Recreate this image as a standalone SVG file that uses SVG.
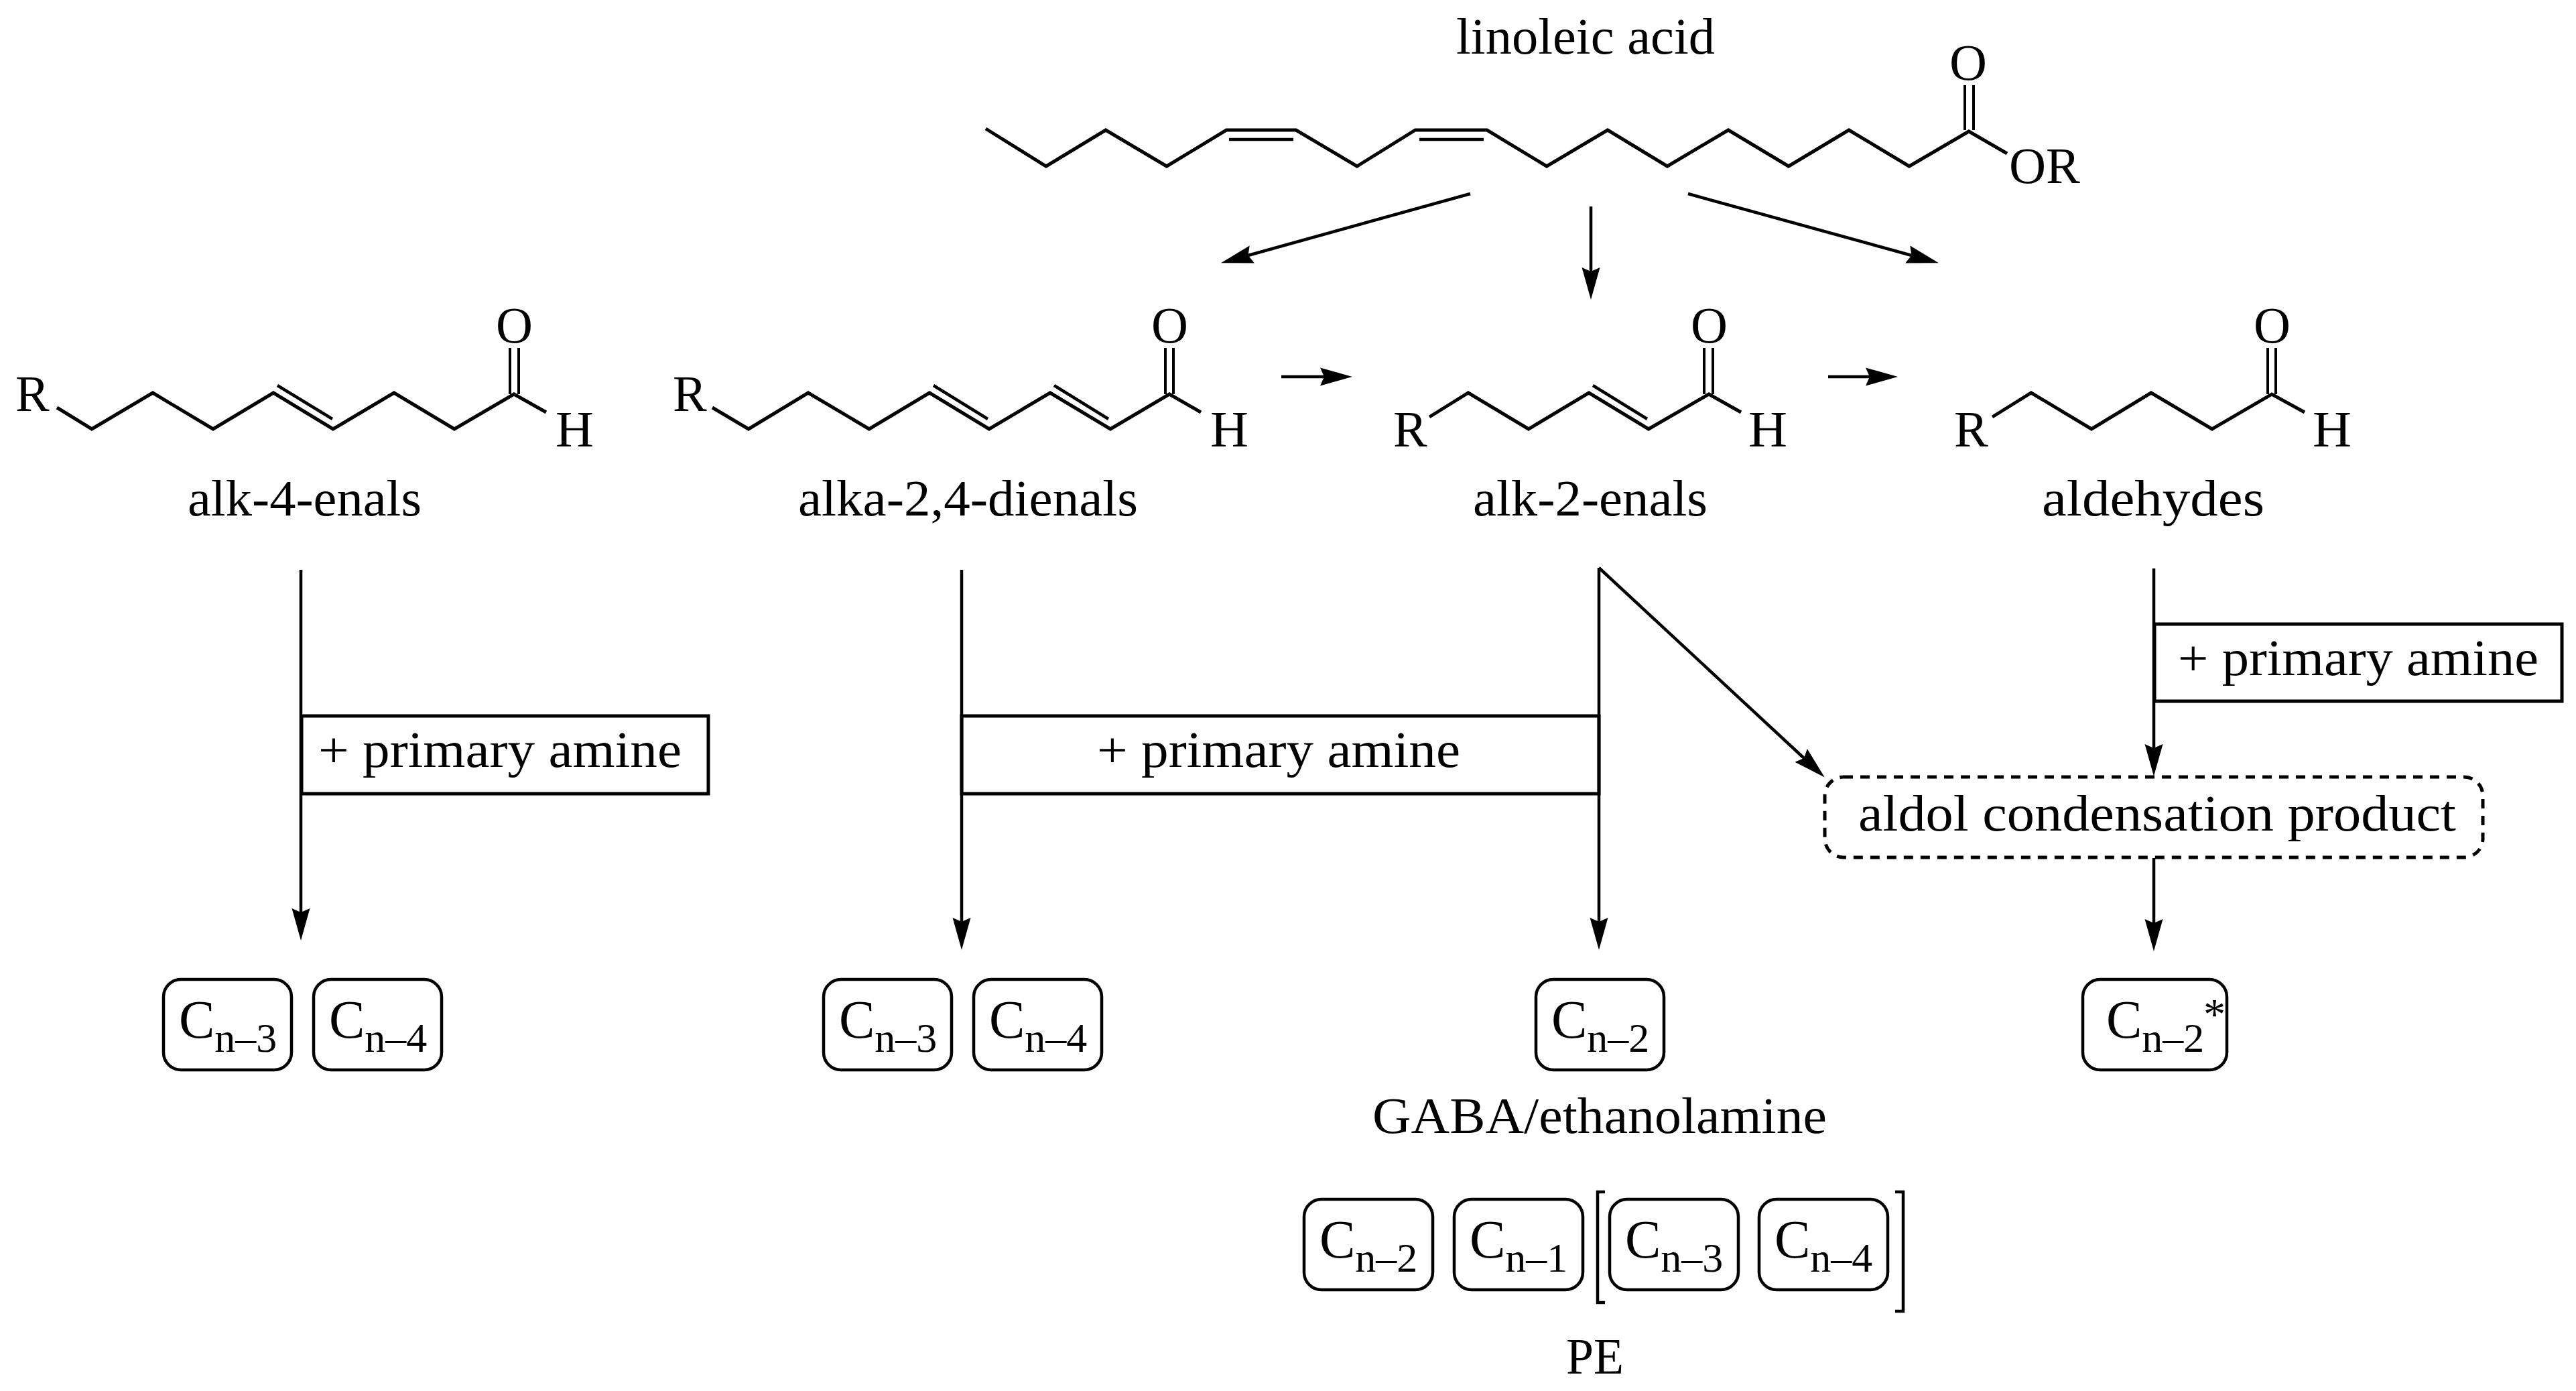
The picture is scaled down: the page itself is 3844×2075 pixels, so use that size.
<svg xmlns="http://www.w3.org/2000/svg" width="3844" height="2075" viewBox="0 0 3844 2075">
<style>
text{font-family:"Liberation Serif","Times New Roman",serif;font-size:76px;fill:#000}
.c{font-size:80px}
.sub{font-size:62px}
.star{font-size:66px}
.bond{fill:none;stroke:#000;stroke-width:5;stroke-linejoin:miter;stroke-miterlimit:10}
.in{fill:none;stroke:#000;stroke-width:4.5}
.co{fill:none;stroke:#000;stroke-width:4}
.box{fill:none;stroke:#000;stroke-width:5}
.cbox{fill:none;stroke:#000;stroke-width:4.5}
.dash{fill:none;stroke:#000;stroke-width:5;stroke-dasharray:14 11}
.arr{fill:none;stroke:#000;stroke-width:4.5;marker-end:url(#head)}
</style>
<defs>
<marker id="head" viewBox="-8 -15 52 30" refX="0" refY="0" markerWidth="52" markerHeight="30" markerUnits="userSpaceOnUse" orient="auto"><path d="M42,0 L-6,-13.5 L0,0 L-6,13.5 Z" fill="#000"/></marker>
</defs>
<rect width="3844" height="2075" fill="#fff"/>

<g id="connectors">
<path class="arr" d="M2194,289 L1862.5,381"/>
<path class="arr" d="M2374,308 L2374,405"/>
<path class="arr" d="M2519,289 L2852.5,381"/>
<path class="arr" d="M1912,562 L1976,562"/>
<path class="arr" d="M2728,562 L2790,562"/>
<path class="arr" d="M449,850 L449,1361"/>
<path class="arr" d="M1435,850 L1435,1375"/>
<path class="arr" d="M2386,847 L2386,1375"/>
<path class="arr" d="M2386,847 L2692,1131"/>
<path class="arr" d="M3214,848 L3214,1116"/>
<path class="arr" d="M3214,1280 L3214,1377"/>
</g>

<g id="linoleic-acid">
<text x="2173" y="80" textLength="386" lengthAdjust="spacingAndGlyphs">linoleic acid</text>
<path class="bond" d="M1471,192 L1561,248 L1650,194 L1741,248 L1830,194 L1934,194 L2025,248 L2112,194 L2219,194 L2308,248 L2399,194 L2488,248 L2579,194 L2669,248 L2759,194 L2849,248 L2938,196 L2995,229"/>
<path class="in" d="M1834,208 H1930 M2118,208 H2214"/>
<path class="co" d="M2932,127 V194 M2945,127 V194"/>
<text x="2909" y="119" textLength="56" lengthAdjust="spacingAndGlyphs">O</text>
<text x="2998" y="273" textLength="106" lengthAdjust="spacingAndGlyphs">OR</text>
</g>

<g id="alk-4-enals">
<text x="23" y="613">R</text>
<path class="bond" d="M85,608 L137,640 L228,586 L318,640 L408,586 L497,640 L588,586 L678,640 L767,588 L815,615"/>
<path class="in" d="M414,575 L496,625"/>
<path class="co" d="M761,519 V588 M774,519 V588"/>
<text x="740" y="511" textLength="55" lengthAdjust="spacingAndGlyphs">O</text>
<text x="829" y="666" textLength="57" lengthAdjust="spacingAndGlyphs">H</text>
<text x="280" y="769" textLength="349" lengthAdjust="spacingAndGlyphs">alk-4-enals</text>
</g>

<g id="alka-2-4-dienals">
<text x="1004" y="613">R</text>
<path class="bond" d="M1063,608 L1117,640 L1206,586 L1297,640 L1387,586 L1476,640 L1567,586 L1657,640 L1745,588 L1792,615"/>
<path class="in" d="M1393,575 L1474,625 M1573,575 L1654,625"/>
<path class="co" d="M1739,519 V588 M1751,519 V588"/>
<text x="1718" y="511" textLength="55" lengthAdjust="spacingAndGlyphs">O</text>
<text x="1806" y="666" textLength="57" lengthAdjust="spacingAndGlyphs">H</text>
<text x="1191" y="769" textLength="507" lengthAdjust="spacingAndGlyphs">alka-2,4-dienals</text>
</g>

<g id="alk-2-enals">
<text x="2079" y="666">R</text>
<path class="bond" d="M2133,622 L2191,586 L2281,640 L2371,586 L2460,640 L2550,588 L2598,615"/>
<path class="in" d="M2377,575 L2458,625"/>
<path class="co" d="M2543,519 V588 M2556,519 V588"/>
<text x="2523" y="511" textLength="55" lengthAdjust="spacingAndGlyphs">O</text>
<text x="2609" y="666" textLength="58" lengthAdjust="spacingAndGlyphs">H</text>
<text x="2198" y="769" textLength="350" lengthAdjust="spacingAndGlyphs">alk-2-enals</text>
</g>

<g id="aldehydes">
<text x="2916" y="666">R</text>
<path class="bond" d="M2973,622 L3031,586 L3121,640 L3210,586 L3301,640 L3390,588 L3439,615"/>
<path class="co" d="M3384,519 V588 M3396,519 V588"/>
<text x="3363" y="511" textLength="55" lengthAdjust="spacingAndGlyphs">O</text>
<text x="3451" y="666" textLength="58" lengthAdjust="spacingAndGlyphs">H</text>
<text x="3047" y="769" textLength="332" lengthAdjust="spacingAndGlyphs">aldehydes</text>
</g>

<g id="amine-box-1">
<rect class="box" x="450" y="1068" width="607" height="116"/>
<text x="475" y="1144" textLength="542" lengthAdjust="spacingAndGlyphs">+ primary amine</text>
</g>
<g id="amine-box-2">
<rect class="box" x="1435" y="1068" width="951" height="116"/>
<text x="1637" y="1144" textLength="542" lengthAdjust="spacingAndGlyphs">+ primary amine</text>
</g>
<g id="amine-box-3">
<rect class="box" x="3215" y="931" width="608" height="115"/>
<text x="3250" y="1007" textLength="538" lengthAdjust="spacingAndGlyphs">+ primary amine</text>
</g>
<g id="aldol-product">
<rect class="dash" x="2723" y="1159" width="982" height="120" rx="28"/>
<text x="2773" y="1239" textLength="892" lengthAdjust="spacingAndGlyphs">aldol condensation product</text>
</g>

<g id="c1-n3"><rect class="cbox" x="244" y="1461" width="191" height="135" rx="26"/><text class="c" x="267" y="1548">C<tspan class="sub" dy="21">n–3</tspan></text></g>
<g id="c1-n4"><rect class="cbox" x="468" y="1461" width="191" height="135" rx="26"/><text class="c" x="491" y="1548">C<tspan class="sub" dy="21">n–4</tspan></text></g>
<g id="c2-n3"><rect class="cbox" x="1229" y="1461" width="191" height="135" rx="26"/><text class="c" x="1252" y="1548">C<tspan class="sub" dy="21">n–3</tspan></text></g>
<g id="c2-n4"><rect class="cbox" x="1453" y="1461" width="191" height="135" rx="26"/><text class="c" x="1476" y="1548">C<tspan class="sub" dy="21">n–4</tspan></text></g>
<g id="c3-n2"><rect class="cbox" x="2292" y="1461" width="191" height="135" rx="26"/><text class="c" x="2315" y="1548">C<tspan class="sub" dy="21">n–2</tspan></text></g>
<g id="c4-n2-star"><rect class="cbox" x="3108" y="1461" width="215" height="135" rx="26"/><text class="c" x="3143" y="1548">C<tspan class="sub" dy="21">n–2</tspan></text><text class="star" x="3288" y="1535">*</text></g>

<g id="gaba-label"><text x="2048" y="1690" textLength="678" lengthAdjust="spacingAndGlyphs">GABA/ethanolamine</text></g>

<g id="pe-n2"><rect class="cbox" x="1946" y="1789" width="192" height="135" rx="26"/><text class="c" x="1969" y="1876">C<tspan class="sub" dy="21">n–2</tspan></text></g>
<g id="pe-n1"><rect class="cbox" x="2170" y="1789" width="192" height="135" rx="26"/><text class="c" x="2193" y="1876">C<tspan class="sub" dy="21">n–1</tspan></text></g>
<g id="pe-n3"><rect class="cbox" x="2402" y="1789" width="192" height="135" rx="26"/><text class="c" x="2425" y="1876">C<tspan class="sub" dy="21">n–3</tspan></text></g>
<g id="pe-n4"><rect class="cbox" x="2625" y="1789" width="192" height="135" rx="26"/><text class="c" x="2648" y="1876">C<tspan class="sub" dy="21">n–4</tspan></text></g>
<g id="pe-bracket">
<path class="cbox" d="M2395,1778 H2384 V1943 H2395"/>
<path class="cbox" d="M2828,1778 H2840 V1956 H2828"/>
</g>
<g id="pe-label"><text x="2337" y="2049" textLength="86" lengthAdjust="spacingAndGlyphs">PE</text></g>
</svg>
